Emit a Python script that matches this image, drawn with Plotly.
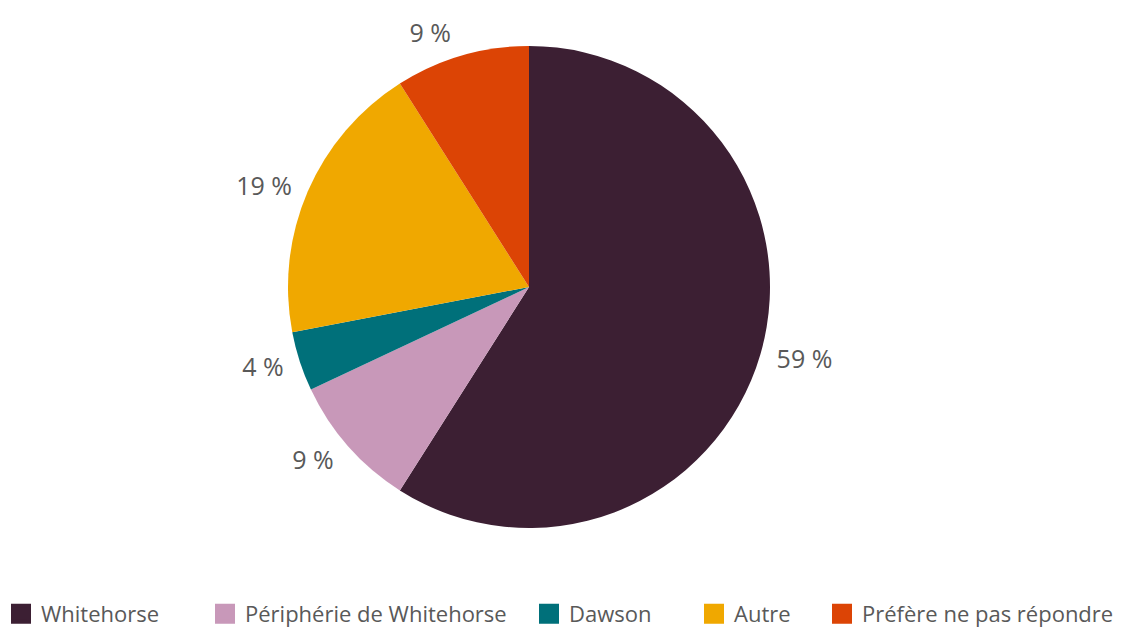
import plotly.graph_objects as go

categories = ["Whitehorse", "Périphérie de Whitehorse", "Dawson", "Autre", "Préfère ne pas répondre"]
values = [59, 9, 4, 19, 9]
colors = ["#3C1F33", "#C898B9", "#00707A", "#F0A800", "#DC4405"]
legend_x_px = [1, 205, 529, 694, 822]

W, H = 1123, 627
cx, cy, r = 529, 287, 241
r_text = 249


def dom(rad):
    return dict(x=[(cx - rad) / W, (cx + rad) / W], y=[(H - cy - rad) / H, (H - cy + rad) / H])


fig = go.Figure()
# Pie slices
fig.add_trace(go.Pie(
    labels=categories, values=values, sort=False, direction="clockwise", rotation=0,
    marker=dict(colors=colors, line=dict(width=0)),
    textinfo="none", showlegend=False, hoverinfo="label+value",
    domain=dom(r),
))
# Transparent, slightly larger pie carrying the outside labels
fig.add_trace(go.Pie(
    labels=categories, values=values, sort=False, direction="clockwise", rotation=0,
    marker=dict(colors=["rgba(0,0,0,0)"] * len(values), line=dict(width=0)),
    textposition="outside", texttemplate="%{value} %",
    textfont=dict(family="Open Sans", size=25, color="#595959"),
    showlegend=False, hoverinfo="skip",
    domain=dom(r_text),
))

layout_legends = {}
for i, (cat, col, lx) in enumerate(zip(categories, colors, legend_x_px)):
    lname = "legend" if i == 0 else f"legend{i + 1}"
    fig.add_trace(go.Scatter(
        x=[None], y=[None], mode="markers", name=cat,
        marker=dict(symbol="square", size=16, color=col, line=dict(width=4, color=col)),
        legend=lname, showlegend=True,
    ))
    layout_legends[lname] = dict(
        x=lx / W, y=(H - 614) / H, xanchor="left", yanchor="middle",
        orientation="h", bgcolor="rgba(0,0,0,0)",
        font=dict(family="Open Sans", size=22, color="#595959"),
        itemclick=False, itemdoubleclick=False,
    )

fig.update_layout(
    width=W, height=H, margin=dict(l=0, r=0, t=0, b=0, autoexpand=False),
    paper_bgcolor="white", plot_bgcolor="white",
    xaxis=dict(visible=False), yaxis=dict(visible=False),
    **layout_legends,
)
fig.write_html("out.html")
